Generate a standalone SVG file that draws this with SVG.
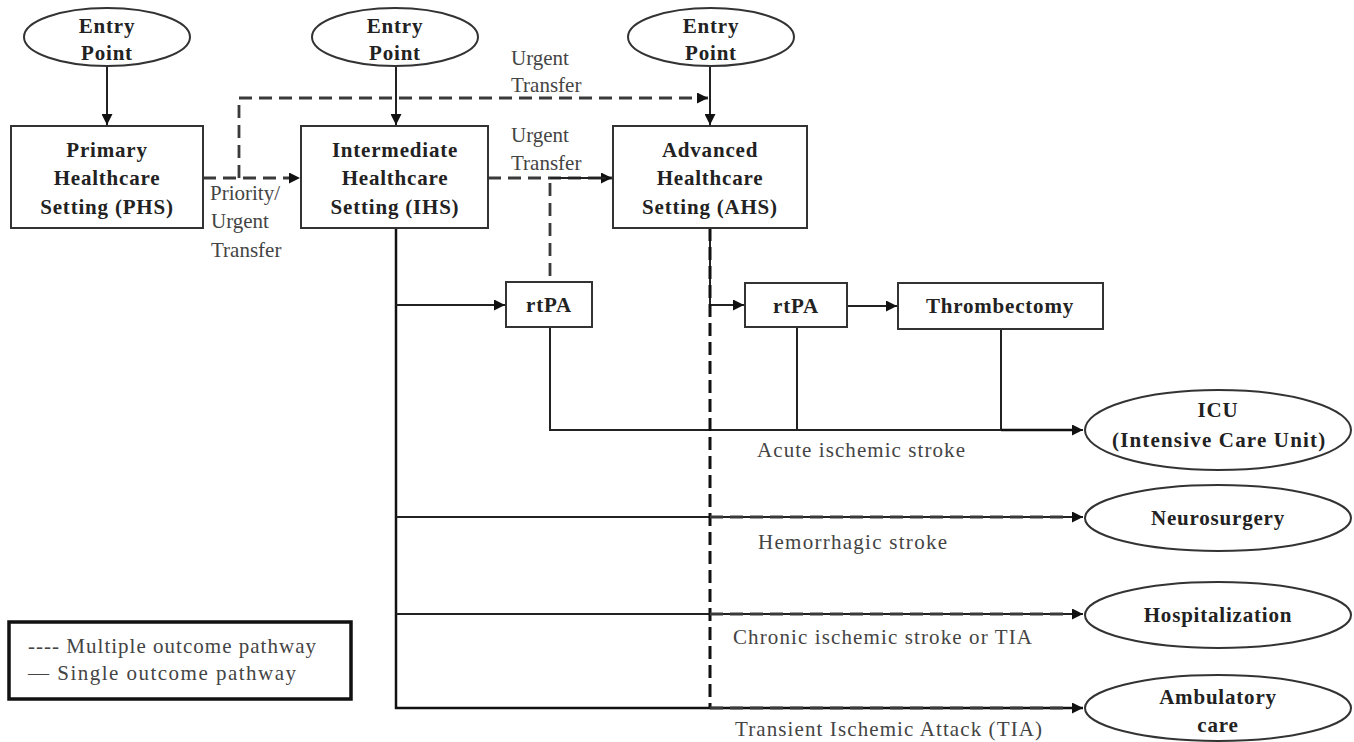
<svg xmlns="http://www.w3.org/2000/svg" width="1354" height="742" viewBox="0 0 1354 742">
<style>
.nd{fill:#fff;stroke:#333;stroke-width:2}
.bt{font-family:"Liberation Serif",serif;font-weight:bold;font-size:21px;fill:#222;text-anchor:middle;letter-spacing:0.8px}
.lb{font-family:"Liberation Serif",serif;font-size:21px;fill:#444}
.s{fill:none;stroke:#222;stroke-width:2}
.sb{fill:none;stroke:#111;stroke-width:2.5}
.d{fill:none;stroke:#3a3a3a;stroke-width:2.8;stroke-dasharray:13 7}
.dv{fill:none;stroke:#111;stroke-width:3;stroke-dasharray:13 6}
</style>
<defs>
<marker id="ar" viewBox="0 0 10 10" refX="10" refY="5" markerWidth="14" markerHeight="11" markerUnits="userSpaceOnUse" orient="auto"><path d="M0,0 L10,5 L0,10 Z" fill="#111"/></marker>
</defs>
<rect width="1354" height="742" fill="#fff"/>
<g id="connectors">
<path class="s" d="M107,67 V125" marker-end="url(#ar)"/>
<path class="s" d="M396,67 V125" marker-end="url(#ar)"/>
<path class="s" d="M710,67 V125" marker-end="url(#ar)"/>
<path class="d" d="M203,178 H300" marker-end="url(#ar)"/>
<path class="d" d="M239,178 V98 H708" marker-end="url(#ar)"/>
<path class="d" d="M488,178 H612" marker-end="url(#ar)"/>
<path class="s" d="M550,178 H606"/>
<path class="d" d="M550,183 V282"/>
<path class="sb" d="M396,228 V708 H1083" marker-end="url(#ar)"/>
<path class="s" d="M396,305 H505" marker-end="url(#ar)"/>
<path class="s" d="M396,517 H1083" marker-end="url(#ar)"/>
<path class="s" d="M396,614 H1083" marker-end="url(#ar)"/>
<path class="s" d="M550,327 V430 H1083" marker-end="url(#ar)"/>
<path class="s" d="M710,228 V305 H744" marker-end="url(#ar)"/>
<path class="dv" d="M710,228 V708"/>
<path class="d" d="M710,517 H1070"/>
<path class="d" d="M710,614 H1070"/>
<path class="d" d="M710,708 H1070"/>
<path class="s" d="M847,306 H897" marker-end="url(#ar)"/>
<path class="s" d="M797,327 V430"/>
<path class="s" d="M1001,329 V430"/>
<path class="sb" d="M1001,430 H1075" stroke-width="3.5"/>
</g>
<g id="entry1"><ellipse class="nd" cx="107" cy="37" rx="83" ry="29"/><text class="bt" x="107" y="33">Entry</text><text class="bt" x="107" y="60">Point</text></g>
<g id="entry2"><ellipse class="nd" cx="395" cy="37" rx="83" ry="29"/><text class="bt" x="395" y="33">Entry</text><text class="bt" x="395" y="60">Point</text></g>
<g id="entry3"><ellipse class="nd" cx="711" cy="37" rx="83" ry="29"/><text class="bt" x="711" y="33">Entry</text><text class="bt" x="711" y="60">Point</text></g>
<g id="phs"><rect class="nd" x="11" y="126" width="192" height="102"/><text class="bt" x="107" y="157">Primary</text><text class="bt" x="107" y="185">Healthcare</text><text class="bt" x="107" y="214">Setting (PHS)</text></g>
<g id="ihs"><rect class="nd" x="301" y="126" width="187" height="102"/><text class="bt" x="395" y="157">Intermediate</text><text class="bt" x="395" y="185">Healthcare</text><text class="bt" x="395" y="214">Setting (IHS)</text></g>
<g id="ahs"><rect class="nd" x="613" y="126" width="194" height="102"/><text class="bt" x="710" y="157">Advanced</text><text class="bt" x="710" y="185">Healthcare</text><text class="bt" x="710" y="214">Setting (AHS)</text></g>
<g id="rtpa1"><rect class="nd" x="506" y="282" width="86" height="45"/><text class="bt" x="549" y="312">rtPA</text></g>
<g id="rtpa2"><rect class="nd" x="745" y="283" width="102" height="44"/><text class="bt" x="796" y="313">rtPA</text></g>
<g id="thromb"><rect class="nd" x="898" y="283" width="205" height="46"/><text class="bt" x="1000" y="313">Thrombectomy</text></g>
<g id="icu"><ellipse class="nd" cx="1218" cy="430" rx="133" ry="40"/><text class="bt" x="1218" y="417">ICU</text><text class="bt" x="1219" y="447" textLength="214" lengthAdjust="spacing">(Intensive Care Unit)</text></g>
<g id="neuro"><ellipse class="nd" cx="1218" cy="518" rx="133" ry="33"/><text class="bt" x="1218" y="525">Neurosurgery</text></g>
<g id="hosp"><ellipse class="nd" cx="1218" cy="615" rx="133" ry="33"/><text class="bt" x="1218" y="622">Hospitalization</text></g>
<g id="amb"><ellipse class="nd" cx="1218" cy="708" rx="133" ry="33"/><text class="bt" x="1218" y="704">Ambulatory</text><text class="bt" x="1218" y="732">care</text></g>
<g id="labels">
<text class="lb" x="210" y="200">Priority/</text>
<text class="lb" x="211" y="228">Urgent</text>
<text class="lb" x="211" y="257">Transfer</text>
<text class="lb" x="511" y="65">Urgent</text>
<text class="lb" x="511" y="92">Transfer</text>
<text class="lb" x="511" y="142">Urgent</text>
<text class="lb" x="511" y="170">Transfer</text>
<text class="lb" x="757" y="457" textLength="208" lengthAdjust="spacing">Acute ischemic stroke</text>
<text class="lb" x="758" y="549" textLength="189" lengthAdjust="spacing">Hemorrhagic stroke</text>
<text class="lb" x="733" y="644" textLength="299" lengthAdjust="spacing">Chronic ischemic stroke or TIA</text>
<text class="lb" x="735" y="736" textLength="307" lengthAdjust="spacing">Transient Ischemic Attack (TIA)</text>
</g>
<g id="legend">
<rect x="9" y="622" width="342" height="77" fill="#fff" stroke="#111" stroke-width="3.5"/>
<text class="lb" x="28" y="653" font-size="20" textLength="288" lengthAdjust="spacing">---- Multiple outcome pathway</text>
<text class="lb" x="28" y="680" font-size="20" textLength="268" lengthAdjust="spacing">— Single outcome pathway</text>
</g>
</svg>
